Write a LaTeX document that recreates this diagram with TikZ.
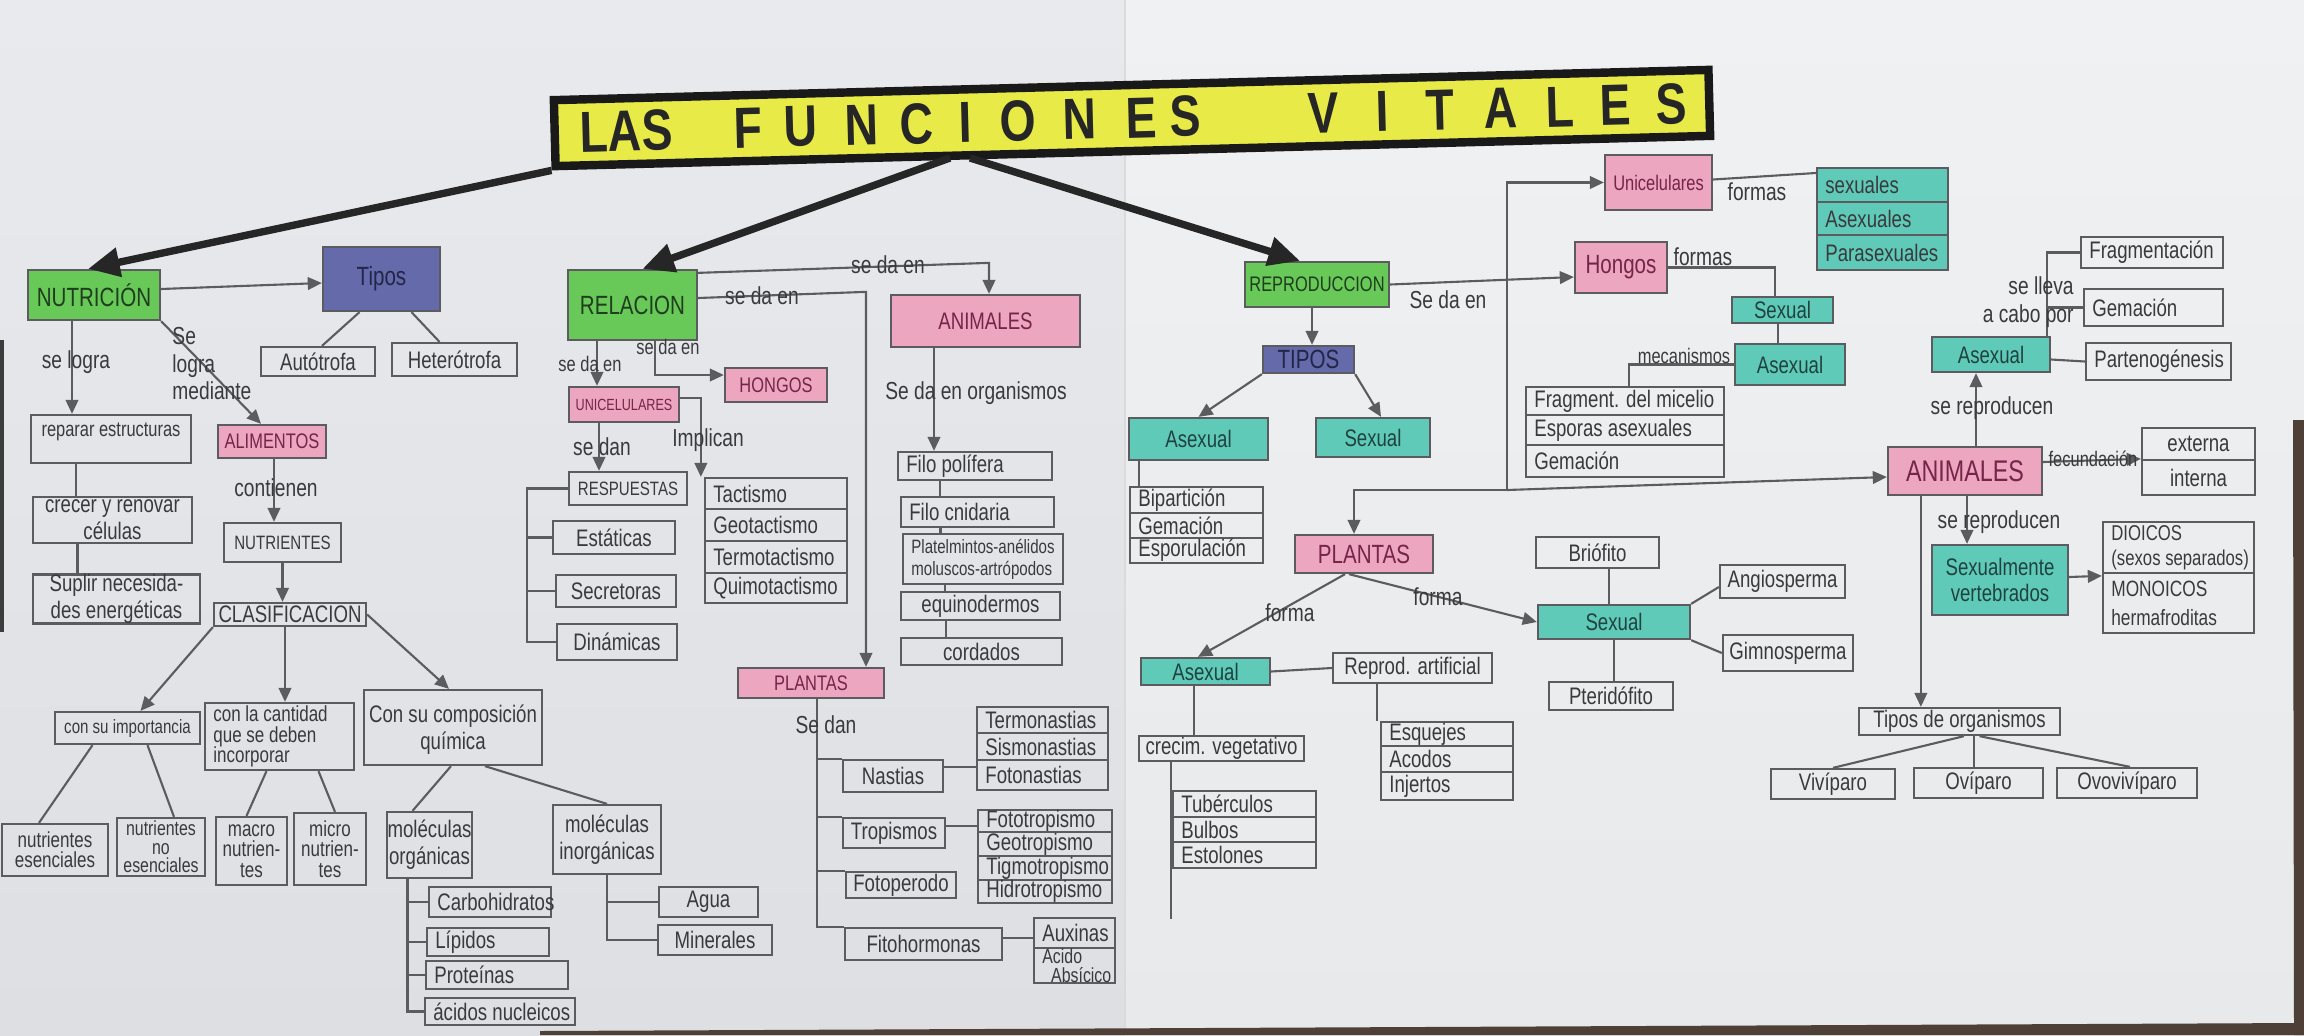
\documentclass[tikz,border=0pt]{standalone}
\usepackage{fontspec}
\setmainfont{Liberation Sans}[FakeStretch=0.78]
\newfontfamily\titlefont{Liberation Sans}[FakeStretch=0.8]
\usetikzlibrary{arrows.meta}
\definecolor{paperAt}{RGB}{233,234,237}
\definecolor{paperAb}{RGB}{222,223,226}
\definecolor{paperBt}{RGB}{240,241,243}
\definecolor{paperBb}{RGB}{232,233,235}
\definecolor{floor}{RGB}{78,64,54}
\definecolor{edge}{RGB}{60,60,60}
\definecolor{pencil}{RGB}{92,92,96}
\definecolor{ink}{RGB}{58,58,62}
\definecolor{cgreen}{RGB}{104,200,88}
\definecolor{cpink}{RGB}{236,166,192}
\definecolor{cblue}{RGB}{100,106,170}
\definecolor{cteal}{RGB}{96,202,184}
\definecolor{cyel}{RGB}{232,234,72}
\definecolor{pinkink}{RGB}{118,36,72}
\definecolor{greenink}{RGB}{30,62,30}
\definecolor{tealink}{RGB}{32,66,64}
\definecolor{blueink}{RGB}{36,38,72}
\tikzset{
  fA/.style={font=\fontsize{4.6}{5.2}\selectfont},
  fB/.style={font=\fontsize{5.5}{6.2}\selectfont},
  fS/.style={font=\fontsize{6}{6.8}\selectfont},
  fC/.style={font=\fontsize{6.8}{7.6}\selectfont},
  fD/.style={font=\fontsize{7.5}{8.4}\selectfont},
  fE/.style={font=\fontsize{8.5}{9.5}\selectfont},
  fT/.style={font=\fontsize{6.2}{5.8}\selectfont},
  fU/.style={font=\fontsize{5.8}{5.3}\selectfont},
  box/.style={draw=pencil, line width=0.65pt, inner sep=0pt, text=ink, align=center, fC},
  gbox/.style={box, fill=cgreen, text=greenink},
  pbox/.style={box, fill=cpink, text=pinkink},
  bbox/.style={box, fill=cblue, text=blueink},
  tbox/.style={box, fill=cteal, text=tealink},
  lbl/.style={text=ink, inner sep=0.5pt, align=center, font=\fontsize{7}{7.8}\selectfont},
  con/.style={draw=pencil, line width=0.6pt},
  arr/.style={con, -{Triangle[length=4pt,width=3.6pt]}},
  mainarr/.style={draw=black!85, line width=2.1pt, -{Triangle[length=9pt,width=8pt]}},
  titlebox/.style={draw=black!90, line width=2.4pt, fill=cyel, rotate=1.5, minimum width=115.5mm, minimum height=6.6mm, inner sep=0pt},
  titlelt/.style={inner sep=0pt, text=black!85, rotate=1.5, font={\titlefont\fontsize{16.5}{18}\selectfont\bfseries}},
}
\newcommand\bx[7]{\node[#6, minimum width={(#4-#2)*0.1mm}, minimum height={(#5-#3)*0.1mm}] (#1) at ({(#2+#4)/2},{(#3+#5)/2}) {#7};}
\newcommand\bxl[8]{\node[#6, minimum width={(#4-#2)*0.1mm}, minimum height={(#5-#3)*0.1mm}] (#1) at ({(#2+#4)/2},{(#3+#5)/2}) {};
\node[lbl, fC, anchor=west, align=left, #7] (#1-t) at ([xshift=2pt]#1.west) {#8};}
\begin{document}
\begin{tikzpicture}[x=0.1mm,y=-0.1mm]
\useasboundingbox (0,0) rectangle (2304,1035);
% paper
\shade[top color=paperAt, bottom color=paperAb] (0,0) rectangle (1125,1035);
\shade[top color=paperBt, bottom color=paperBb] (1125,0) rectangle (2304,1035);
\draw[black!14, line width=0.8pt] (1125,0) -- (1125,1035);
\fill[edge] (0,340) rectangle (4,632);
\fill[floor] (540,1031) -- (2304,1023) -- (2304,1035) -- (540,1035) -- cycle;
\fill[floor] (2293,420) -- (2304,420) -- (2304,1035) -- (2294,1035) -- cycle;

% ---------- title ----------
\node[titlebox] (title) at (1132,118) {};
\begin{scope}[shift={(1132,118)}, rotate=1.5]
\foreach \ch/\xx [count=\i] in {L/594,A/625,S/657,F/748,U/801,N/862,C/917,I/965,O/1018,N/1080,E/1141,S/1185,V/1324,I/1383,T/1440,A/1501,L/1560,E/1616,S/1672}
  \node[titlelt] (tl\i) at ({\xx-1132},0) {\ch};
\end{scope}

% ---------- NUTRICION ----------
\bx{nut}{28}{270}{160}{320}{gbox,fD}{NUTRICIÓN}
\bx{tiposn}{323}{247}{440}{311}{bbox,fD}{Tipos}
\bx{auto}{261}{347}{375}{376}{box}{Autótrofa}
\bx{hetero}{392}{343}{517}{376}{box}{Heterótrofa}
\bx{rep}{31}{415}{191}{463}{box}{}
\node[lbl,fS,anchor=north] (rep-t) at ([yshift=-0.7mm]rep.north) {reparar estructuras};
\bx{crecer}{33}{497}{192}{543}{box}{crecer y renovar\\células}
\bx{suplir}{33}{575}{200}{623}{box}{Suplir necesida-\\des energéticas}
\bx{alim}{218}{425}{326}{458}{pbox,fS}{ALIMENTOS}
\bx{nutri}{224}{523}{341}{562}{box,fB}{NUTRIENTES}
\bx{clasif}{214}{603}{366}{626}{box}{CLASIFICACION}
\bx{impor}{55}{712}{200}{744}{box,fB}{con su importancia}
\bxl{cant}{205}{703}{354}{770}{box}{fT}{con la cantidad\\que se deben\\incorporar}
\bx{compo}{364}{690}{542}{765}{box}{}
\node[lbl,fC,anchor=north] (compo-t) at ([yshift=-1.4mm]compo.north) {Con su composición\\química};
\bx{ese}{2}{824}{108}{876}{box,fT}{nutrientes\\esenciales}
\bx{noese}{117}{818}{205}{876}{box,fU}{nutrientes\\no\\esenciales}
\bx{macro}{216}{817}{287}{885}{box,fT}{macro\\nutrien-\\tes}
\bx{micro}{294}{813}{366}{885}{box,fT}{micro\\nutrien-\\tes}
\bx{morg}{387}{812}{472}{878}{box}{moléculas\\orgánicas}
\bxl{carbo}{429}{887}{551}{917}{box}{}{Carbohidratos}
\bxl{lip}{427}{928}{549}{956}{box}{}{Lípidos}
\bxl{prot}{426}{961}{568}{989}{box}{}{Proteínas}
\bxl{acid}{425}{998}{575}{1025}{box}{}{ácidos nucleicos}
\bx{minorg}{553}{805}{661}{874}{box}{moléculas\\inorgánicas}
\bx{agua}{659}{887}{758}{917}{box}{Agua}
\bx{mine}{658}{925}{772}{955}{box}{Minerales}

% ---------- RELACION ----------
\bx{rel}{568}{270}{697}{340}{gbox,fD}{RELACION}
\bx{animr}{891}{295}{1080}{347}{pbox}{ANIMALES}
\bx{hongr}{725}{368}{827}{402}{pbox,fS}{HONGOS}
\bx{unir}{569}{387}{679}{422}{pbox,fA}{UNICELULARES}
\bx{resp}{569}{472}{687}{505}{box,fB}{RESPUESTAS}
\bx{estat}{553}{521}{675}{554}{box}{Estáticas}
\bx{secre}{556}{575}{676}{607}{box}{Secretoras}
\bx{dina}{557}{624}{677}{660}{box}{Dinámicas}
\bxl{tac1}{705}{478}{847}{509}{box}{}{Tactismo}
\bxl{tac2}{705}{509}{847}{541}{box}{}{Geotactismo}
\bxl{tac3}{705}{541}{847}{573}{box}{}{Termotactismo}
\bxl{tac4}{705}{573}{847}{603}{box}{}{Quimotactismo}
\bxl{filo1}{898}{452}{1052}{480}{box}{}{Filo polífera}
\bxl{filo2}{901}{497}{1054}{527}{box}{}{Filo cnidaria}
\bxl{filo3}{903}{534}{1063}{584}{box}{fB}{Platelmintos-anélidos\\moluscos-artrópodos}
\bx{filo4}{901}{592}{1060}{620}{box}{equinodermos}
\bx{filo5}{901}{638}{1062}{665}{box}{cordados}
\bx{plr}{738}{668}{884}{698}{pbox,fS}{PLANTAS}
\bx{nast}{843}{760}{943}{792}{box}{Nastias}
\bxl{nas1}{977}{707}{1108}{733}{box}{}{Termonastias}
\bxl{nas2}{977}{733}{1108}{760}{box}{}{Sismonastias}
\bxl{nas3}{977}{760}{1108}{790}{box}{}{Fotonastias}
\bx{trop}{843}{818}{945}{848}{box}{Tropismos}
\bxl{tro1}{978}{810}{1112}{832}{box}{}{Fototropismo}
\bxl{tro2}{978}{832}{1112}{856}{box}{}{Geotropismo}
\bxl{tro3}{978}{856}{1112}{880}{box}{}{Tigmotropismo}
\bxl{tro4}{978}{880}{1112}{903}{box}{}{Hidrotropismo}
\bx{fotop}{846}{872}{956}{898}{box}{Fotoperodo}
\bx{fito}{845}{928}{1002}{960}{box}{Fitohormonas}
\bxl{aux}{1034}{918}{1115}{948}{box}{}{Auxinas}
\bxl{acido}{1034}{948}{1115}{983}{box}{fU}{Acido\\\ \ Absícico}

% ---------- REPRODUCCION ----------
\bx{repro}{1245}{262}{1389}{307}{gbox,fS}{REPRODUCCION}
\bx{tiposr}{1263}{346}{1354}{373}{bbox,fD}{TIPOS}
\bx{asexr}{1129}{418}{1268}{460}{tbox}{Asexual}
\bx{sexr}{1316}{418}{1430}{457}{tbox}{Sexual}
\bxl{bip}{1130}{487}{1263}{513}{box}{}{Bipartición}
\bxl{gem}{1130}{513}{1263}{538}{box}{}{Gemación}
\bxl{espo}{1130}{538}{1263}{563}{box}{}{Esporulación}
\bx{unic}{1605}{155}{1712}{210}{pbox,fS}{Unicelulares}
\bxl{sx1}{1817}{168}{1948}{202}{tbox}{}{sexuales}
\bxl{sx2}{1817}{202}{1948}{235}{tbox}{}{Asexuales}
\bxl{sx3}{1817}{235}{1948}{270}{tbox}{}{Parasexuales}
\bx{hongo}{1575}{242}{1667}{293}{pbox,fD}{Hongos}
\bx{hsex}{1732}{297}{1833}{323}{tbox}{Sexual}
\bx{hasex}{1735}{344}{1845}{385}{tbox}{Asexual}
\bxl{fr1}{1526}{387}{1724}{415}{box}{}{Fragment. del micelio}
\bxl{fr2}{1526}{415}{1724}{445}{box}{}{Esporas asexuales}
\bxl{fr3}{1526}{445}{1724}{477}{box}{}{Gemación}
\bx{plp}{1295}{535}{1433}{573}{pbox,fD}{PLANTAS}
\bx{asexp}{1141}{658}{1270}{685}{tbox}{Asexual}
\bx{artif}{1333}{653}{1492}{683}{box}{Reprod. artificial}
\bx{crecim}{1139}{736}{1304}{761}{box}{crecim. vegetativo}
\bxl{tub1}{1173}{791}{1316}{817}{box}{}{Tubérculos}
\bxl{tub2}{1173}{817}{1316}{842}{box}{}{Bulbos}
\bxl{tub3}{1173}{842}{1316}{868}{box}{}{Estolones}
\bxl{esq1}{1381}{722}{1513}{746}{box}{}{Esquejes}
\bxl{esq2}{1381}{746}{1513}{772}{box}{}{Acodos}
\bxl{esq3}{1381}{772}{1513}{800}{box}{}{Injertos}
\bx{sexp}{1538}{605}{1690}{639}{tbox}{Sexual}
\bx{brio}{1536}{537}{1659}{568}{box}{Briófito}
\bx{pteri}{1549}{682}{1673}{710}{box}{Pteridófito}
\bx{angio}{1720}{565}{1845}{598}{box}{Angiosperma}
\bx{gimno}{1723}{635}{1853}{671}{box}{Gimnosperma}

% ---------- ANIMALES ----------
\bx{anim}{1888}{447}{2042}{495}{pbox,fE}{ANIMALES}
\bx{asexa}{1932}{337}{2050}{372}{tbox}{Asexual}
\bxl{fragm}{2081}{237}{2223}{268}{box}{}{Fragmentación}
\bxl{gema}{2084}{289}{2223}{326}{box}{}{Gemación}
\bxl{parte}{2086}{343}{2231}{380}{box}{}{Partenogénesis}
\bx{ext}{2142}{428}{2255}{460}{box}{externa}
\bx{int}{2142}{460}{2255}{495}{box}{interna}
\bx{sexv}{1932}{545}{2068}{615}{tbox}{Sexualmente\\vertebrados}
\bxl{dio}{2103}{522}{2254}{573}{box}{font=\fontsize{6.1}{7}\selectfont}{DIOICOS\\(sexos separados)}
\bxl{mono}{2103}{573}{2254}{633}{box}{font=\fontsize{6.3}{8.2}\selectfont}{MONOICOS\\hermafroditas}
\bx{torg}{1859}{708}{2060}{735}{box}{Tipos de organismos}
\bx{vivi}{1771}{769}{1895}{799}{box}{Vivíparo}
\bx{ovi}{1914}{768}{2043}{798}{box}{Ovíparo}
\bx{ovov}{2057}{768}{2197}{798}{box}{Ovovivíparo}

% ---------- title arrows ----------
\coordinate (ts1) at (950,158);
\coordinate (ts2) at (970,158);
\draw[mainarr] (title.south west) -- ([xshift=-0.6mm]nut.north);
\draw[mainarr] (ts1) -- ([xshift=1mm]rel.north);
\draw[mainarr] (ts2) -- ([xshift=-1.7mm]repro.north);

% ---------- NUTRICION connectors ----------
\draw[arr] ([yshift=0.6mm]nut.east) -- ([yshift=-0.4mm]tiposn.west);
\draw[con] ([xshift=0.4mm]auto.north) -- ([xshift=-2.2mm]tiposn.south);
\draw[con] ([xshift=-1.5mm]hetero.north) -- ([xshift=3mm]tiposn.south);
\draw[arr] ([xshift=-2.2mm]nut.south) -- ([xshift=-2.2mm]nut.south |- rep.north);
\node[lbl] (l1) at (76,362) {se logra};
\draw[arr] (nut.south east) -- ([xshift=-1.1mm]alim.north);
\node[lbl, align=left, anchor=north west] (l2) at (170,325) {Se\\logra\\mediante};
\draw[con] ([xshift=-3.5mm]rep.south) -- ([xshift=-3.5mm]rep.south |- crecer.north);
\draw[con] ([xshift=-3.5mm]crecer.south) -- ([xshift=-3.5mm]crecer.south |- suplir.north);
\draw[arr] ([xshift=0.2mm]alim.south) -- ([xshift=0.2mm]alim.south |- nutri.north);
\node[lbl] (l3) at (276,488) {contienen};
\draw[arr] (nutri.south) -- (nutri.south |- clasif.north);
\draw[arr] (clasif.south west) -- ([xshift=1.3mm]impor.north);
\draw[arr] ([xshift=-0.5mm]clasif.south) -- ([xshift=-0.5mm]clasif.south |- cant.north);
\draw[arr] (clasif.east) -- ([xshift=-0.4mm]compo.north);
\draw[con] ([xshift=-3.5mm]impor.south) -- ([xshift=-1.6mm]ese.north);
\draw[con] ([xshift=2mm]impor.south) -- ([xshift=1.3mm]noese.north);
\draw[con] ([xshift=-1.3mm]cant.south) -- ([xshift=-0.5mm]macro.north);
\draw[con] ([xshift=3.9mm]cant.south) -- ([xshift=0.5mm]micro.north);
\draw[con] ([xshift=-0.2mm]compo.south) -- ([xshift=-1.7mm]morg.north);
\draw[con] ([xshift=3.2mm]compo.south) -- (minorg.north);
\draw[con] ([xshift=-2.2mm]morg.south) |- (acid.west);
\draw[con] ([xshift=-2.2mm]morg.south |- carbo.west) -- (carbo.west);
\draw[con] ([xshift=-2.2mm]morg.south |- lip.west) -- (lip.west);
\draw[con] ([xshift=-2.2mm]morg.south |- prot.west) -- (prot.west);
\draw[con] (minorg.south) |- (mine.west);
\draw[con] (minorg.south |- agua.west) -- (agua.west);

% ---------- RELACION connectors ----------
\draw[arr] ([yshift=-0.4mm]rel.north east) -- ([xshift=0.35mm,yshift=3.1mm]animr.north) -- ([xshift=0.35mm]animr.north);
\node[lbl] (l4) at (888,265) {se da en};
\draw[arr] ([yshift=0.7mm]rel.east) -- ([xshift=5.5mm,yshift=37.5mm]plr.north) -- ([xshift=5.5mm]plr.north);
\node[lbl] (l5) at (762,296) {se da en};
\draw[arr] ([xshift=-3.55mm]rel.south) -- ([xshift=-3.55mm]rel.south |- unir.north);
\node[lbl, fS] (l6) at (590,364) {se da en};
\draw[arr] ([xshift=2.25mm]rel.south) |- ([yshift=1mm]hongr.west);
\node[lbl, fS] (l7) at (668,347) {se da en};
\draw[arr] ([xshift=-2.5mm]unir.south) -- ([xshift=-2.5mm]unir.south |- resp.north);
\node[lbl] (l8) at (602,447) {se dan};
\draw[arr] ([yshift=0.65mm]unir.east) -| ([xshift=-0.3mm]tac1.north west);
\node[lbl] (l9) at (708,440) {Implican};
\draw[con] (resp.west) -| ([xshift=-2.9mm]dina.west) -- (dina.west);
\draw[con] ([xshift=-2.9mm]dina.west |- estat.west) -- (estat.west);
\draw[con] ([xshift=-2.9mm]dina.west |- secre.west) -- (secre.west);
\draw[arr] ([xshift=-5.15mm]animr.south) -- ([xshift=-5.15mm]animr.south |- filo1.north);
\node[lbl] (l10) at (976,393) {Se da en organismos};
\draw[con] ([xshift=-3.5mm]filo1.south) -- ([xshift=-3.5mm]filo1.south |- filo2.north);
\draw[con] ([xshift=-3.7mm]filo2.south) -- ([xshift=-3.7mm]filo2.south |- filo3.north);
\draw[con] ([xshift=-3.8mm]filo3.south) -- ([xshift=-3.8mm]filo3.south |- filo4.north);
\draw[con] ([xshift=-3.45mm]filo4.south) -- ([xshift=-3.45mm]filo4.south |- filo5.north);
\draw[con] ([xshift=0.6mm]plr.south) -- ([xshift=0.6mm]plr.south |- fito.north west) -- (fito.north west);
\draw[con] ([xshift=0.6mm]plr.south |- nast.north west) -- (nast.north west);
\draw[con] ([xshift=0.6mm]plr.south |- trop.north west) -- (trop.north west);
\draw[con] ([xshift=0.6mm]plr.south |- fotop.north west) -- (fotop.north west);
\node[lbl] (l11) at (826,725) {Se dan};
\draw[con] ([yshift=0.9mm]nast.east) -- ([yshift=0.9mm]nast.east -| nas3.west);
\draw[con] ([yshift=0.7mm]trop.east) -- ([yshift=0.7mm]trop.east -| tro1.west);
\draw[con] ([yshift=0.6mm]fito.east) -- ([yshift=0.6mm]fito.east -| aux.west);

% ---------- REPRODUCCION connectors ----------
\draw[arr] ([xshift=-0.5mm]repro.south) -- ([xshift=-0.5mm]repro.south |- tiposr.north);
\draw[arr] (tiposr.south west) -- (asexr.north);
\draw[arr] (tiposr.south east) -- ([xshift=0.8mm]sexr.north);
\draw[con] ([xshift=-5.95mm]asexr.south) -- ([xshift=-5.95mm]asexr.south |- bip.north);
\draw[arr] (repro.east) -- ([yshift=-0.95mm]hongo.west);
\node[lbl] (l12) at (1448,300) {Se da en};
\coordinate (jbot) at (1507,490);
\draw[arr] (jbot) |- (unic.west);
\draw[arr] (jbot) -- ([yshift=-0.6mm]anim.west);
\draw[arr] (jbot) -| ([xshift=-1mm]plp.north);
\draw[con] ([yshift=0.3mm]unic.east) -- ([yshift=1.2mm]sx1.west);
\node[lbl] (l13) at (1757,192) {formas};
\draw[con] (hongo.east) -| ([xshift=-0.75mm]hsex.north);
\node[lbl] (l14) at (1703,257) {formas};
\draw[con] ([xshift=-0.45mm]hsex.south) -- ([xshift=-0.45mm]hsex.south |- hasex.north);
\draw[con] (hasex.west) -| ([xshift=0.4mm]fr1.north);
\node[lbl, fS] (l15) at (1684,356) {mecanismos};
\draw[arr] ([xshift=-1.9mm]plp.south) -- ([xshift=-0.75mm]asexp.north);
\node[lbl] (l16) at (1290,613) {forma};
\draw[arr] ([xshift=-1.5mm]plp.south) -- (sexp.west);
\node[lbl] (l17) at (1438,597) {forma};
\draw[con] (asexp.east) -- (artif.west);
\draw[con] ([xshift=-1.15mm]asexp.south) -- ([xshift=-1.15mm]asexp.south |- crecim.north);
\draw[con] ([xshift=-5.05mm]crecim.south) -- ([xshift=-5.05mm,yshift=-5mm]crecim.south |- tub3.south);
\draw[con] ([xshift=-3.55mm]artif.south) -- ([xshift=-3.55mm]artif.south |- esq1.north);
\draw[con] ([xshift=-0.5mm]sexp.north) -- ([xshift=-0.5mm]sexp.north |- brio.south);
\draw[con] (sexp.south) -- (sexp.south |- pteri.north);
\draw[con] (sexp.north east) -- ([yshift=-0.55mm]angio.west);
\draw[con] (sexp.south east) -- (gimno.west);

% ---------- ANIMALES connectors ----------
\draw[arr] ([xshift=1.1mm]anim.north) -- ([xshift=1.1mm]anim.north |- asexa.south);
\node[lbl] (l18) at (1992,408) {se reproducen};
\draw[con] ([xshift=-0.4mm]asexa.north east) |- (fragm.west);
\draw[con] ([xshift=-0.4mm]asexa.north east |- gema.west) -- (gema.west);
\draw[con] ([yshift=-0.5mm]asexa.east) -- (parte.west);
\node[lbl, align=right, anchor=east] (l19) at (2076,302) {se lleva\\a cabo por};
\draw[arr] ([yshift=0.9mm]anim.east) -- (int.north west);
\node[lbl, fS] (l20) at (2093,459) {fecundación};
\draw[arr] ([xshift=0.2mm]anim.south) -- ([xshift=0.2mm]anim.south |- sexv.north);
\node[lbl] (l21) at (1999,522) {se reproducen};
\draw[arr] ([yshift=0.3mm]sexv.east) -- ([yshift=-0.4mm]mono.north west);
\draw[arr] ([xshift=3.4mm]anim.south west) -- ([xshift=3.4mm]anim.south west |- torg.north);
\draw[con] ([xshift=0.45mm]torg.south) -- (vivi.north);
\draw[con] ([xshift=1.45mm]torg.south) -- ([xshift=1.45mm]torg.south |- ovi.north);
\draw[con] ([xshift=2mm]torg.south) -- ([xshift=0.3mm]ovov.north);
\end{tikzpicture}
\end{document}
